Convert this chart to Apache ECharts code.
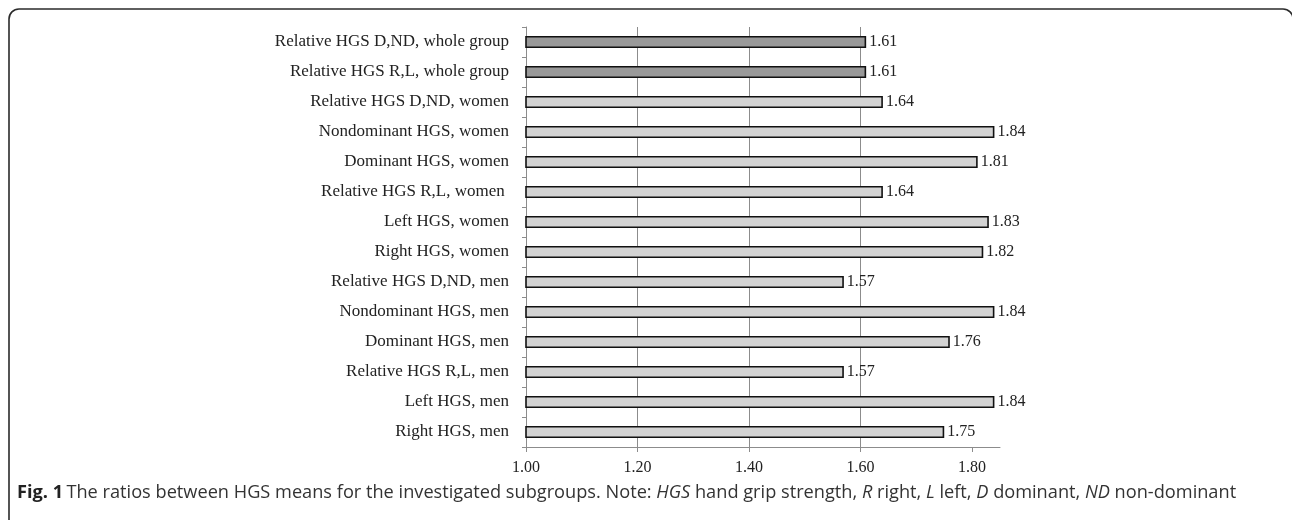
<!DOCTYPE html>
<html>
<head>
<meta charset="utf-8">
<script src="https://cdn.jsdelivr.net/npm/echarts@6/dist/echarts.min.js"></script>
<style>
  html, body { margin: 0; padding: 0; background: #fff; }
  #chart { width: 1292px; height: 520px; }
</style>
</head>
<body>
<div id="chart"></div>
<script>
// categories, top to bottom
var categories = [
  'Relative HGS D,ND, whole group',
  'Relative HGS R,L, whole group',
  'Relative HGS D,ND, women',
  'Nondominant HGS, women',
  'Dominant HGS, women',
  'Relative HGS R,L, women ',
  'Left HGS, women',
  'Right HGS, women',
  'Relative HGS D,ND, men',
  'Nondominant HGS, men',
  'Dominant HGS, men',
  'Relative HGS R,L, men',
  'Left HGS, men',
  'Right HGS, men'
]
var ratios = [1.61, 1.61, 1.64, 1.84, 1.81, 1.64, 1.83, 1.82, 1.57, 1.84, 1.76, 1.57, 1.84, 1.75]
var xTicks = [1.00, 1.20, 1.40, 1.60, 1.80]

var serif = '"Liberation Serif", "DejaVu Serif", serif'
var sans = '"Open Sans", "Noto Sans", sans-serif'

var chart = echarts.init(document.getElementById('chart'))

var barData = ratios.map(function (v, i) {
  var whole = categories[i].indexOf('whole group') >= 0
  return {
    value: v,
    itemStyle: { color: whole ? '#999999' : '#d3d3d3' }
  }
})

var option = {
  animation: false,
  grid: {
    left: 526,
    right: 292,
    top: 27,
    bottom: 73
  },
  xAxis: {
    type: 'value',
    min: 1,
    max: 1.85,
    interval: 0.2,
    axisLine: { show: true, lineStyle: { color: '#8c8c8c', width: 1 } },
    axisTick: { show: true, length: 5, customValues: xTicks, lineStyle: { color: '#8c8c8c' } },
    axisLabel: {
      customValues: xTicks,
      margin: 13,
      fontFamily: serif,
      fontSize: 16,
      color: '#222',
      formatter: function (v) { return v.toFixed(2) }
    },
    splitLine: {
      show: true,
      showMinLine: false,
      showMaxLine: false,
      lineStyle: { color: '#8c8c8c', width: 1 }
    }
  },
  yAxis: {
    type: 'category',
    inverse: true,
    data: categories,
    axisLine: { show: true, lineStyle: { color: '#8c8c8c', width: 1 } },
    axisTick: { show: true, length: 4, lineStyle: { color: '#8c8c8c' } },
    axisLabel: {
      margin: 17,
      fontFamily: serif,
      fontSize: 17,
      color: '#222'
    }
  },
  series: [{
    type: 'bar',
    data: barData,
    barWidth: 12,
    itemStyle: { borderColor: '#111', borderWidth: 1.6 },
    label: {
      show: true,
      position: 'right',
      distance: 3,
      fontFamily: serif,
      fontSize: 16,
      color: '#222',
      formatter: function (p) { return p.value.toFixed(2) }
    }
  }],
  graphic: [
    {
      type: 'rect',
      shape: { x: 9, y: 9, width: 1284, height: 600, r: 10 },
      style: { fill: 'none', stroke: '#2b2b2b', lineWidth: 1.6 },
      silent: true
    },
    {
      type: 'text',
      left: 17,
      top: 484,
      style: {
        text: '{b|Fig. 1} {n|The ratios between HGS means for the investigated subgroups. Note: }{i|HGS}{n| hand grip strength, }{i|R}{n| right, }{i|L}{n| left, }{i|D}{n| dominant, }{i|ND}{n| non-dominant}',
        rich: {
          b: { fontFamily: sans, fontSize: 18.2, fontWeight: 'bold', fill: '#222', color: '#222' },
          n: { fontFamily: sans, fontSize: 18.2, fill: '#333', color: '#333' },
          i: { fontFamily: sans, fontSize: 18.2, fontStyle: 'italic', fill: '#333', color: '#333' }
        }
      }
    }
  ]
}

chart.setOption(option)
window.addEventListener('resize', function () { chart.resize() })
</script>
</body>
</html>
